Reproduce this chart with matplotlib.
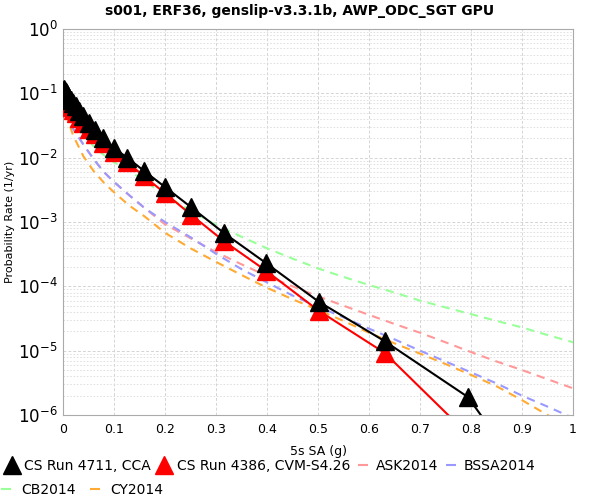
import math
import matplotlib
matplotlib.use('Agg')
import matplotlib.pyplot as plt
from matplotlib.lines import Line2D
from matplotlib.ticker import FixedLocator, LogLocator, NullFormatter, FuncFormatter

# CyberShake hazard curves (x = 5s SA in g)
cs_x = [0.001, 0.002, 0.00316, 0.005, 0.00631, 0.00794, 0.01, 0.0126, 0.0158,
        0.02, 0.0251, 0.0316, 0.0398, 0.0501, 0.0631, 0.0794, 0.1, 0.126, 0.158,
        0.2, 0.251, 0.316, 0.398, 0.501, 0.631, 0.794, 1.0]
cca = [0.116, 0.113, 0.110, 0.105, 0.101, 0.097, 0.092, 0.086, 0.079,
       0.071, 0.063, 0.054, 0.044, 0.034, 0.027, 0.020, 0.014, 0.010, 0.0063,
       0.0035, 0.0017, 6.7e-4, 2.3e-4, 5.8e-5, 1.4e-5, 1.9e-6, 1e-8]
cvm = [0.095, 0.092, 0.089, 0.085, 0.081, 0.077, 0.072, 0.067, 0.061,
       0.055, 0.049, 0.042, 0.035, 0.028, 0.023, 0.017, 0.0123, 0.0085, 0.0052,
       0.0028, 0.0013, 5.0e-4, 1.75e-4, 4.2e-5, 9.2e-6, 5e-7, 1e-9]

# GMPE comparison curves
gm_x = [0.005, 0.01, 0.02, 0.04, 0.06, 0.08, 0.1, 0.13, 0.16, 0.2, 0.25, 0.3,
        0.35, 0.4, 0.45, 0.5, 0.55, 0.6, 0.65, 0.7, 0.75, 0.8, 0.85, 0.9, 0.95, 1.0]
ask = [0.052, 0.042, 0.028, 0.016, 0.0095, 0.006, 0.0042, 0.0026, 0.00165, 9.2e-4,
       5.6e-4, 3.4e-4, 2.2e-4, 1.45e-4, 1.0e-4, 7.0e-5, 5.0e-5, 3.6e-5, 2.6e-5,
       1.9e-5, 1.35e-5, 9.5e-6, 6.8e-6, 5.0e-6, 3.6e-6, 2.6e-6]
bssa = [0.052, 0.042, 0.028, 0.016, 0.0095, 0.006, 0.0042, 0.0026, 0.00165, 1.0e-3,
        5.8e-4, 3.2e-4, 1.85e-4, 1.15e-4, 7.2e-5, 4.8e-5, 3.3e-5, 2.2e-5, 1.5e-5,
        1.0e-5, 6.8e-6, 4.6e-6, 3.1e-6, 2.0e-6, 1.35e-6, 0.9e-6]
cb = [0.07, 0.06, 0.042, 0.024, 0.015, 0.011, 0.0085, 0.0062, 0.0044, 0.0026,
      0.0015, 9.0e-4, 5.9e-4, 3.9e-4, 2.7e-4, 1.9e-4, 1.4e-4, 1.05e-4, 8.0e-5,
      6.0e-5, 4.7e-5, 3.7e-5, 2.9e-5, 2.3e-5, 1.75e-5, 1.35e-5]
cy = [0.05, 0.038, 0.022, 0.0105, 0.0062, 0.0041, 0.0029, 0.0018, 0.00122, 6.8e-4,
      3.9e-4, 2.4e-4, 1.5e-4, 9.5e-5, 6.3e-5, 4.3e-5, 2.9e-5, 1.9e-5, 1.3e-5,
      9.0e-6, 6.2e-6, 4.2e-6, 2.8e-6, 1.7e-6, 1.0e-6, 0.6e-6]

x_ticks = [0, 0.1, 0.2, 0.3, 0.4, 0.5, 0.6, 0.7, 0.8, 0.9, 1.0]

fig = plt.figure(figsize=(6, 5), dpi=100)
ax = fig.add_axes([0.105, 0.17, 0.85, 0.772])

dash = (4, 3)
ax.plot(gm_x, ask, color='#ff9999', lw=1.5, dashes=dash, zorder=3)
ax.plot(gm_x, bssa, color='#9999ff', lw=1.5, dashes=dash, zorder=3)
ax.plot(gm_x, cb, color='#99ff99', lw=1.5, dashes=dash, zorder=3)
ax.plot(gm_x, cy, color='#ffaa33', lw=1.5, dashes=dash, zorder=3)
ax.plot(cs_x, cvm, color='red', lw=1.5, marker='^', markersize=13, zorder=4)
ax.plot(cs_x, cca, color='black', lw=1.5, marker='^', markersize=13, zorder=5)

ax.set_yscale('log')
ax.set_xlim(0, 1)
ax.set_ylim(1e-6, 1)
ax.xaxis.set_major_locator(FixedLocator(x_ticks))
ax.xaxis.set_major_formatter(FuncFormatter(lambda v, p: '%g' % v))
ax.yaxis.set_major_locator(LogLocator(base=10, numticks=10))
ax.yaxis.set_minor_locator(LogLocator(base=10, subs=range(2, 10), numticks=10))
ax.yaxis.set_minor_formatter(NullFormatter())
ax.yaxis.set_major_formatter(FuncFormatter(lambda v, p: r'$10^{%d}$' % round(math.log10(v))))

ax.grid(True, which='major', color='#d4d4d4', linestyle=(0, (3, 2)), lw=0.7)
ax.grid(True, which='minor', axis='y', color='#dcdcdc', linestyle=(0, (2, 2)), lw=0.6)
for s in ax.spines.values():
    s.set_color('#aaaaaa')
ax.tick_params(axis='both', which='both', length=0, pad=6)
ax.tick_params(axis='x', labelsize=9)
ax.tick_params(axis='y', labelsize=12, pad=4)

ax.set_xlabel('5s SA (g)', fontsize=9, labelpad=6)
ax.set_ylabel('Probability Rate (1/yr)', fontsize=8, labelpad=2)
fig.text(0.5, 0.978, 's001, ERF36, genslip-v3.3.1b, AWP_ODC_SGT GPU',
         ha='center', va='center', fontsize=10, fontweight='bold')

# legend: short dash handles for GMPEs, triangles for CyberShake runs
h1 = [Line2D([], [], color='black', marker='^', markersize=13, linestyle='none'),
      Line2D([], [], color='red', marker='^', markersize=13, linestyle='none'),
      Line2D([], [], color='#ff9999', marker='_', markersize=7, mew=1.5, linestyle='none'),
      Line2D([], [], color='#9999ff', marker='_', markersize=7, mew=1.5, linestyle='none')]
l1 = ['CS Run 4711, CCA', 'CS Run 4386, CVM-S4.26', 'ASK2014', 'BSSA2014']
h2 = [Line2D([], [], color='#99ff99', marker='_', markersize=7, mew=1.5, linestyle='none'),
      Line2D([], [], color='#ffaa33', marker='_', markersize=7, mew=1.5, linestyle='none')]
l2 = ['CB2014', 'CY2014']

fig.legend(h1, l1, loc='center left', bbox_to_anchor=(0.009, 1 - 466 / 500), ncol=4,
           frameon=False, fontsize=10, handlelength=0.9, handletextpad=0.45,
           columnspacing=0.5, borderaxespad=0, borderpad=0)
fig.legend(h2, l2, loc='center left', bbox_to_anchor=(0.0, 1 - 490 / 500), ncol=2,
           frameon=False, fontsize=10, handlelength=0.9, handletextpad=0.6,
           columnspacing=1.0, borderaxespad=0, borderpad=0)

fig.savefig('out.png', dpi=100)
